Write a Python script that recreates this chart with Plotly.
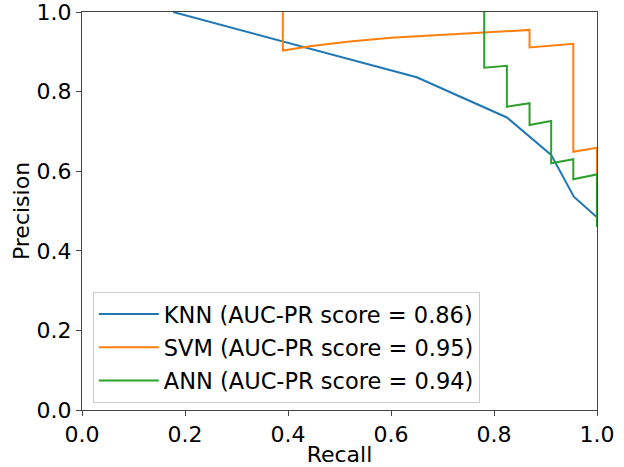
import plotly.graph_objects as go

knn_recall = [0.177, 0.65, 0.825, 0.911, 0.955, 1.0]
knn_precision = [1.0, 0.836, 0.735, 0.641, 0.536, 0.484]

svm_recall = [0.39, 0.39, 0.45, 0.52, 0.60, 0.70, 0.80, 0.869, 0.869, 0.954, 0.954, 1.0, 1.0]
svm_precision = [1.0, 0.903, 0.915, 0.926, 0.935, 0.943, 0.950, 0.955, 0.911, 0.920, 0.649, 0.659, 0.46]

ann_recall = [0.781, 0.781, 0.825, 0.825, 0.869, 0.869, 0.911, 0.911, 0.954, 0.954, 1.0, 1.0]
ann_precision = [1.0, 0.86, 0.865, 0.762, 0.771, 0.716, 0.726, 0.62, 0.63, 0.58, 0.592, 0.46]

series = [
    ("KNN (AUC-PR score = 0.86)", knn_recall, knn_precision, "#1f77b4"),
    ("SVM (AUC-PR score = 0.95)", svm_recall, svm_precision, "#ff7f0e"),
    ("ANN (AUC-PR score = 0.94)", ann_recall, ann_precision, "#2ca02c"),
]

tick_vals = [0.0, 0.2, 0.4, 0.6, 0.8, 1.0]
tick_text = ["0.0", "0.2", "0.4", "0.6", "0.8", "1.0"]

fig = go.Figure()
for i, (name, xs, ys, col) in enumerate(series):
    fig.add_trace(go.Scatter(x=xs, y=ys, mode="lines", name=name,
                             legendgroup=f"g{i}",
                             line=dict(color=col, width=2)))

axis_common = dict(
    range=[0, 1], tickvals=tick_vals, ticktext=tick_text,
    showgrid=False, zeroline=False, showline=True, linecolor="#444",
    linewidth=1, mirror=True, ticks="outside", ticklen=5, tickcolor="#444",
    tickfont=dict(size=22, color="black"), layer="above traces",
    automargin=False, ticklabeloverflow="allow",
)

fig.update_layout(
    width=624, height=467,
    margin=dict(l=82, r=27, t=12, b=57),
    paper_bgcolor="white", plot_bgcolor="white",
    font=dict(family="DejaVu Sans", size=22, color="black"),
    xaxis=dict(title=dict(text="Recall", font=dict(size=22), standoff=0), **axis_common),
    yaxis=dict(title=dict(text="Precision", font=dict(size=22), standoff=0), **axis_common),
    legend=dict(x=0.021, y=0.297, xanchor="left", yanchor="top",
                bgcolor="rgba(255,255,255,0.8)", bordercolor="#cccccc",
                borderwidth=1, font=dict(size=22.5), tracegroupgap=1,
                itemwidth=60),
    showlegend=True,
)

fig.write_html("out.html")
